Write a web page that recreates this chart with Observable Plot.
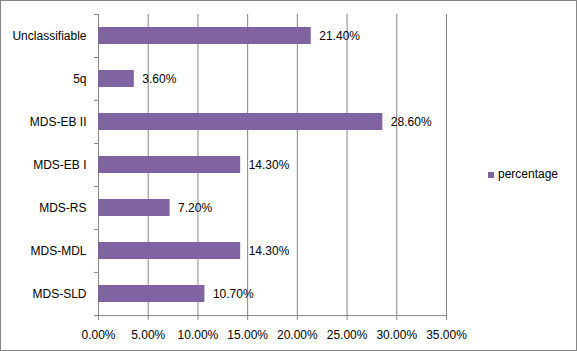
<!DOCTYPE html>
<html><head><meta charset="utf-8">
<script src="https://cdn.jsdelivr.net/npm/d3@7"></script>
<script src="https://cdn.jsdelivr.net/npm/@observablehq/plot@0.6"></script>
<style>
body{margin:0;background:#fff;}
#wrap{position:relative;width:577px;height:351px;font-family:"Liberation Sans",Arial,sans-serif;}
#chart svg{display:block;}
#border{position:absolute;left:0;top:0;width:577px;height:351px;box-sizing:border-box;border:1px solid #868686;pointer-events:none;}
#legend{position:absolute;left:488px;top:168px;font-size:12px;line-height:13px;color:#000;display:flex;align-items:center;}
#legend .sw{width:6px;height:6px;background:#8064A2;margin-right:4px;}
</style></head><body>
<div id="wrap"><div id="chart"></div><div id="legend"><span class="sw"></span><span id="lgtext"></span></div><div id="border"></div></div>
<script>
const categories = ["Unclassifiable", "5q", "MDS-EB II", "MDS-EB I", "MDS-RS", "MDS-MDL", "MDS-SLD"];
const values = [0.214, 0.036, 0.286, 0.143, 0.072, 0.143, 0.107];
const xTicks = [0, 0.05, 0.10, 0.15, 0.20, 0.25, 0.30, 0.35];
const seriesName = "percentage";

const data = categories.map((c, i) => ({category: c, value: values[i]}));
const fmt = d3.format(".2%");
const W = 577, H = 351, mL = 98, mR = 131, mT = 14, mB = 35;
const step = (H - mT - mB) / categories.length;
const grid = "#868686";
const barColor = "#8064A2";

const chart = Plot.plot({
  width: W, height: H,
  marginLeft: mL, marginRight: mR, marginTop: mT, marginBottom: mB,
  style: {fontFamily: '"Liberation Sans", Arial, sans-serif', fontSize: "12px", color: "#000", background: "transparent"},
  x: {domain: [0, 0.35]},
  y: {domain: categories, paddingInner: 0.6, paddingOuter: 0.3},
  marks: [
    Plot.ruleX(xTicks, {stroke: grid}),
    Plot.barX(data, {y: "category", x: "value", fill: barColor}),
    Plot.text(data, {y: "category", x: "value", text: d => fmt(d.value), textAnchor: "start", dx: 8, fill: "#000"}),
    Plot.ruleY(categories, {y: d => d, x1: 0, x2: 0, insetLeft: -4, dy: -step / 2, stroke: grid}),
    Plot.ruleY([categories[categories.length - 1]], {y: d => d, x1: 0, x2: 0.35, insetLeft: -4, dy: step / 2, stroke: grid}),
    Plot.axisX({ticks: xTicks, tickFormat: fmt, tickSize: 4, tickPadding: 10, stroke: grid, fill: "#000", label: null}),
    Plot.axisY({tickSize: 0, tickPadding: 12, fill: "#000", label: null})
  ]
});
document.getElementById("chart").appendChild(chart);
document.getElementById("lgtext").textContent = seriesName;
</script>
</body></html>
